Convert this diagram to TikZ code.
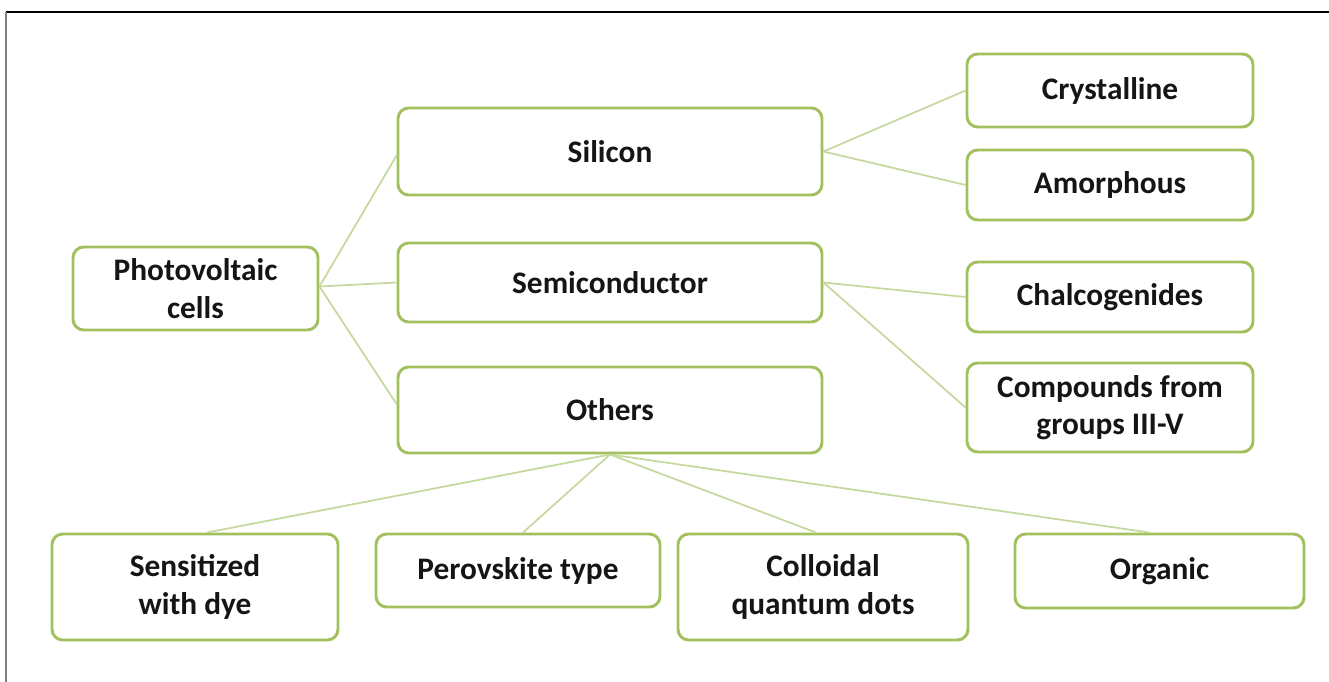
\documentclass[tikz,border=0pt]{standalone}
\usepackage{fontspec}
\setmainfont{Carlito}
\usetikzlibrary{calc}
\definecolor{boxgreen}{HTML}{A2C05E}
\definecolor{linkgreen}{HTML}{C5D89E}
\definecolor{textdark}{HTML}{151515}
\tikzset{
  cat/.style={draw=boxgreen, line width=2.2pt, rounded corners=8pt, fill=white,
    align=center, inner sep=0pt, text=textdark,
    font=\fontsize{23.5}{28}\selectfont\bfseries},
  link/.style={draw=linkgreen, line width=1.3pt},
}
\begin{document}
\begin{tikzpicture}[x=0.75pt,y=-0.75pt]
  % page frame
  \useasboundingbox (0,0) rectangle (1329,682);
  \draw[black, line width=1.3pt] (6,12) -- (1329,12);
  \draw[gray, line width=1.6pt] (6,12) -- (6,682);

  % categories
  \node[cat, minimum width=183.75pt, minimum height=62.25pt] (pv) at (195.5,288.5) {Photovoltaic\\cells};
  \node[cat, minimum width=318pt, minimum height=65.25pt] (si) at (610,151.5) {Silicon};
  \node[cat, minimum width=318pt, minimum height=59.25pt] (sc) at (610,282.5) {Semiconductor};
  \node[cat, minimum width=318pt, minimum height=64.5pt] (ot) at (610,410) {Others};

  \node[cat, minimum width=214.5pt, minimum height=54.75pt] (cr) at (1110,90.5) {Crystalline};
  \node[cat, minimum width=214.5pt, minimum height=52.5pt] (am) at (1110,185) {Amorphous};
  \node[cat, minimum width=214.5pt, minimum height=52.5pt] (ch) at (1110,297) {Chalcogenides};
  \node[cat, minimum width=214.5pt, minimum height=66.75pt] (cp) at (1110,407.5) {Compounds from\\groups III-V};

  \node[cat, minimum width=214.5pt, minimum height=79.5pt] (sd) at (195,587) {Sensitized\\with dye};
  \node[cat, minimum width=213pt, minimum height=54.75pt] (pe) at (518,570.5) {Perovskite type};
  \node[cat, minimum width=217.5pt, minimum height=79.5pt] (cq) at (823,587) {Colloidal\\quantum dots};
  \node[cat, minimum width=216.75pt, minimum height=55.5pt] (og) at (1159.5,571) {Organic};

  % connectors
  \draw[link] ($(pv.east)+(0,-2)$) -- ($(si.west)+(0,4)$);
  \draw[link] ($(pv.east)+(0,-2)$) -- (sc.west);
  \draw[link] ($(pv.east)+(0,-2)$) -- ($(ot.west)+(0,-6)$);

  \draw[link] (si.east) -- (cr.west);
  \draw[link] (si.east) -- (am.west);

  \draw[link] (sc.east) -- (ch.west);
  \draw[link] (sc.east) -- (cp.west);

  \draw[link] (ot.south) -- ($(sd.north)+(12,0)$);
  \draw[link] (ot.south) -- ($(pe.north)+(5,0)$);
  \draw[link] (ot.south) -- ($(cq.north)+(-7,0)$);
  \draw[link] (ot.south) -- ($(og.north)+(-10,0)$);
\end{tikzpicture}
\end{document}
